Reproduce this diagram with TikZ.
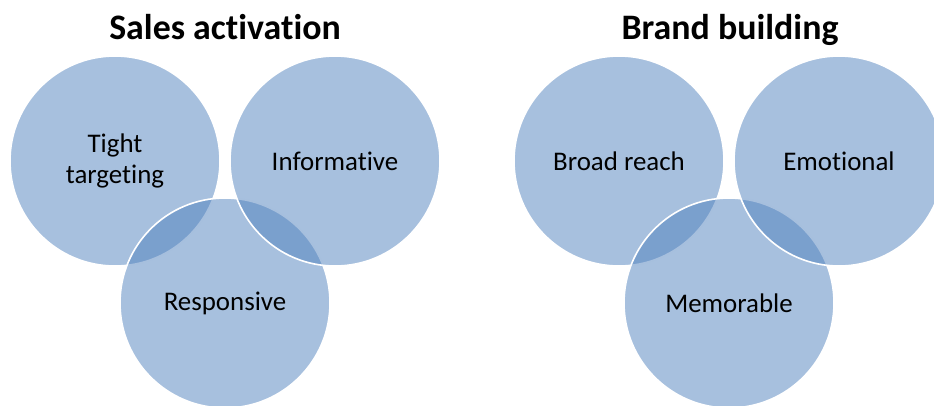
\documentclass[tikz,border=0pt]{standalone}
\usepackage{fontspec}
\setmainfont[Ligatures={NoCommon,NoDiscretionary}]{Carlito}
\definecolor{vennblue}{HTML}{4F81BD}

\begin{document}
\begin{tikzpicture}[x=1bp, y=-1bp,
  venn/.style={circle, minimum size=210bp, inner sep=0pt, fill=vennblue,
    fill opacity=0.5, text opacity=1, draw=white, line width=1.6bp,
    align=center, font=\fontsize{27}{31}\selectfont},
  title/.style={anchor=base, font=\fontsize{36}{40}\selectfont\bfseries}]
  \useasboundingbox (0,0) rectangle (934,405);
  % sales activation
  \node[title] (sales) at (225,39) {Sales activation};
  \node[venn] (tight) at (115,161) {Tight\\targeting};
  \node[venn] (resp) at (225,303) {Responsive};
  \node[venn] (info) at (335,161) {Informative};
  % brand building
  \node[title] (brand) at (730,39) {Brand building};
  \node[venn] (broad) at (619,161) {Broad reach};
  \node[venn] (memo) at (729,303) {Memorable};
  \node[venn] (emo) at (839,161) {Emotional};
\end{tikzpicture}
\end{document}
